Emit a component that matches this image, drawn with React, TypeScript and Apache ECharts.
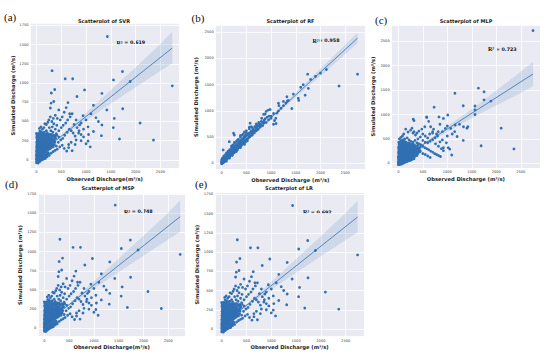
import React, { useEffect, useRef } from 'react';
import * as echarts from 'echarts';

// ---------- data (observed, simulated) ----------
const pointsSVR: number[][] = [
  [2,-38],[12,-30],[25,-35],[8,-20],[30,-18],[45,-25],[60,-12],[5,-5],[20,0],[40,-5],[55,5],[75,-2],[95,8],[110,15],[130,22],[150,30],[170,40],
  [0,15],[15,20],[35,12],[50,25],[70,18],[90,30],[105,40],[125,48],[145,58],[165,65],[190,72],[210,85],[235,95],
  [3,40],[18,45],[32,38],[48,52],[65,45],[82,60],[100,70],[118,78],[138,90],[160,98],[180,110],[205,118],[228,130],[255,140],[280,150],
  [0,65],[14,70],[28,62],[42,78],[58,72],[76,88],[94,95],[112,105],[130,118],[152,125],[172,140],[195,150],[220,165],[248,175],[275,190],[305,200],
  [5,92],[20,98],[36,90],[52,104],[70,100],[88,118],[106,128],[124,138],[144,150],[166,160],[188,175],[212,190],[240,205],[268,220],[300,235],[330,250],
  [2,120],[16,125],[30,118],[46,132],[62,128],[80,145],[98,155],[116,165],[136,178],[158,190],[182,205],[206,220],[232,240],[262,255],[292,270],
  [8,148],[24,152],[40,145],[56,160],[74,158],[92,172],[110,185],[130,200],[152,215],[176,230],[200,248],[228,262],[258,285],
  [4,175],[20,180],[36,172],[52,188],[70,190],[90,205],[110,218],[132,235],[156,250],[182,270],[210,290],
  [10,205],[28,210],[46,200],[64,218],[84,232],[104,248],[126,265],[150,285],[176,305],
  [6,232],[22,240],[40,235],[60,252],[82,270],[106,290],[132,310],[160,330],
  [14,262],[34,270],[56,285],[80,305],[105,325],[135,350],
  [5,295],[28,300],[50,318],[76,340],[100,365],[10,325],[40,345],[70,375],
  [15,-28],[35,-40],[50,-15],[68,-20],[85,0],[100,-3],[120,5],[140,12],[160,18],[180,30],[200,45],
  [10,8],[28,25],[42,20],[62,32],[80,10],[98,22],[115,28],[135,35],[155,45],[175,52],[198,60],[222,75],[245,82],
  [8,55],[24,58],[38,50],[55,62],[72,55],[90,75],[108,82],[126,88],[148,102],[170,112],[195,130],[215,140],[240,155],
  [12,82],[30,80],[45,88],[62,90],[80,108],[98,112],[118,122],[138,130],[160,145],[180,158],[202,168],[225,180],[252,195],
  [10,110],[25,108],[40,112],[56,118],[72,115],[90,135],[108,142],[128,155],[150,168],[170,178],[195,195],[220,208],[245,222],
  [14,138],[32,135],[48,140],[66,145],[84,165],[102,168],[122,178],[142,190],[165,205],[190,218],[215,232],
  [12,162],[28,165],[44,160],[62,175],[80,178],[100,195],[120,208],[142,222],[166,238],[192,258],
  [15,192],[32,195],[55,205],[75,210],[95,225],[115,238],[138,252],
  [14,218],[30,225],[50,225],[72,240],[95,258],[118,275],
  [18,250],[45,258],[68,262],[90,288],[0,345],[20,315],[62,335],[88,352],[15,280],
  [260,300],[285,240],[300,280],[310,215],[320,300],[345,265],[355,320],[370,230],[390,280],[400,340],[270,330],[235,270],
  [250,310],[300,330],[330,200],[360,260],[290,195],[240,185],[265,165],[315,180],[345,235],[375,310],[195,330],[220,350],
  [180,320],[160,360],[210,310],[230,300],
  [180,20],[220,45],[260,60],[300,90],[340,110],[380,125],[420,140],[470,170],[520,190],[560,150],[610,115],[650,200],[700,230],
  [260,420],[290,380],[320,430],[350,470],[380,400],[410,450],[250,520],[280,560],[310,500],[340,540],[200,460],[230,490],
  [150,420],[170,470],[120,400],[90,430],[60,410],[200,380],[240,330],[280,320],[330,310],[370,290],[410,320],[450,300],
  [490,260],[530,280],[570,320],[620,360],[660,400],[700,380],[740,350],[780,310],[800,260],[450,380],[500,420],[540,450],
  [590,480],[630,520],[680,560],[720,600],[760,460],[820,420],[860,380],[900,330],[950,300],[480,520],[520,560],[420,540],
  [380,580],[440,230],[360,200],[400,180],[300,160],[340,170],[250,250],[330,360],[280,260],
  [315,1160],[580,1055],[730,1055],[1735,1150],[1553,1040],[1890,1020],[2740,963],[970,910],[368,915],[300,870],[1320,865],
  [817,825],[350,760],[295,738],[636,745],[280,675],[1150,710],[1420,650],[1740,665],[940,575],[670,600],[1570,540],
  [2090,480],[1320,455],[1550,420],[1040,430],[870,455],[1675,272],[2360,258],[1310,315],[1040,245],[1085,170],[1000,210],
  [1150,370],[1430,1605],[1200,550],[1000,520],[900,480],[1100,600],[800,520],[600,680],[1250,500],[950,400],[850,350],
  [1050,330],[650,160],[720,120],[780,200],[900,250],[560,620],[450,650]
];

const pointsRF: number[][] = [
  [0,-10],[5,5],[10,-5],[15,20],[20,10],[25,30],[30,15],[40,40],[45,25],[50,55],[55,35],[60,70],[65,50],[70,45],[80,85],
  [85,65],[90,100],[95,75],[100,90],[105,120],[110,85],[115,105],[120,140],[125,100],[130,120],[135,150],[140,110],[150,160],
  [155,130],[160,175],[165,145],[170,190],[175,150],[180,200],[185,165],[190,215],[200,180],[205,230],[210,195],[220,245],
  [225,205],[230,260],[240,215],[245,280],[250,235],[260,290],[265,240],[270,310],[280,255],[285,320],[290,270],[300,330],
  [310,280],[320,350],[330,300],[340,370],[350,320],[360,390],[370,340],[380,410],[390,355],[400,430],[410,370],[420,450],
  [430,390],[440,470],[450,410],[460,500],[470,430],[480,520],[490,445],[500,540],[520,470],[530,560],[550,500],[560,580],
  [580,520],[600,620],[620,540],[640,650],[660,580],[680,700],[700,620],[720,730],[740,650],[760,760],[780,690],[800,800],
  [830,720],[860,820],
  [3,20],[12,10],[18,35],[28,20],[35,45],[42,30],[52,65],[58,45],[68,80],[75,60],[82,100],[88,75],[98,110],[102,80],[112,130],
  [118,100],[128,145],[132,110],[142,165],[148,125],[158,180],[162,140],[172,205],[178,160],[188,225],[195,175],[202,245],
  [208,185],[218,265],[222,200],[235,275],[238,220],[248,300],[255,230],[262,310],[270,255],[278,330],[285,270],[295,345],
  [302,290],[312,360],[318,305],[328,380],[335,320],[345,395],[352,335],[362,410],[372,355],[382,430],[392,370],[402,450],
  [412,385],[425,465],[435,400],[448,490],[458,420],[470,505],[482,440],[495,525],[508,460],[525,545],[540,480],[555,560],
  [572,510],[590,590],[610,560],[630,600],[650,640],[670,620],[700,680],[730,700],[750,720],[790,740],[820,780],[850,770],
  [880,850],[920,880],
  [45,140],[90,170],[140,220],[200,330],[260,400],[320,440],[380,530],[440,560],[500,580],[95,40],[160,100],[220,160],
  [300,230],[380,300],[460,360],
  [30,90],[50,130],[80,170],[100,200],[130,230],[160,260],[200,300],[230,350],[260,380],[300,420],[340,460],[380,500],
  [420,540],[460,600],[500,620],[560,660],[600,700],[20,60],[60,120],[120,190],[180,250],[240,320],[10,40],[35,60],[70,110],
  [110,160],[150,210],[190,260],[210,150],[250,200],[280,220],[320,260],[360,300],[400,340],[440,380],[480,400],[520,430],
  [0,30],[0,60],[8,80],[18,100],[40,100],[30,255],[154,412],[255,540],[240,575],
  [2750,1700],[2375,1475],[2120,1790],[1740,1700],[1900,1660],[1755,1430],[1690,1300],[1450,1320],[1550,1240],[1560,1200],
  [1320,1270],[1330,1190],[1150,1145],[1160,1100],[1420,1045],[940,1015],[980,1025],[900,990],[1095,860],[1070,815],
  [1100,760],[1050,745],[810,860],[850,935],[775,710],[700,660],[670,700],[880,940],[575,765],[560,690],[1000,900],
  [1200,1050],[1250,1100],[1050,950],[950,830],[900,780],[850,800],[750,780],[650,620],[620,680],[700,750],[1300,1150],
  [1600,1450],[1800,1600],[2000,1720],[1650,1500],[1250,1180],[1150,1000],[1350,1200],[1000,860],[960,900],[1120,960]
];

const pointsMLP: number[][] = [
  [0,-20],[10,0],[25,-10],[40,10],[60,-5],[80,15],[100,20],[120,35],[150,45],[180,60],[210,70],[240,85],[270,95],[300,110],
  [0,30],[15,45],[35,25],[55,50],[75,40],[95,65],[115,60],[140,80],[165,90],[195,105],[225,120],[255,135],[290,150],[320,165],[360,180],
  [5,80],[20,95],[40,75],[60,100],[85,90],[105,115],[130,110],[155,135],[180,150],[210,160],[240,180],[270,195],[305,210],[340,225],[380,240],[420,255],
  [0,130],[18,140],[38,125],[58,150],[80,145],[100,170],[125,165],[150,185],[175,200],[200,215],[230,230],[260,250],[295,265],[330,280],[370,300],[410,310],[450,330],
  [8,180],[25,190],[45,175],[68,200],[90,195],[112,220],[138,215],[165,240],[190,255],[220,270],[250,290],[285,310],[320,330],[360,350],[400,370],
  [3,230],[22,240],[42,225],[65,250],[88,245],[110,270],[135,265],[160,290],[188,305],[218,320],[250,340],[285,360],[320,380],
  [10,280],[30,290],[52,275],[75,300],[98,295],[122,320],[148,315],[175,340],[205,355],[238,370],[270,390],
  [5,330],[28,340],[50,325],[74,350],[100,345],[126,370],[155,385],[185,400],[215,420],
  [15,380],[40,390],[66,375],[92,400],[120,420],[150,440],[8,430],[35,445],[62,470],[95,480],[130,500],
  [20,500],[50,530],[85,560],[110,600],
  [5,-30],[18,-15],[32,-25],[50,5],[70,-15],[90,0],[110,8],[135,20],[160,30],[190,40],[220,55],[250,70],[280,80],[320,95],
  [8,15],[26,12],[45,35],[65,25],[85,50],[108,45],[128,62],[152,70],[180,78],[210,92],[240,105],[272,118],[305,130],[340,150],[380,160],
  [12,60],[30,65],[50,55],[70,78],[95,75],[118,95],[142,98],[168,118],[195,128],[225,140],[255,160],[288,175],[322,190],[360,205],[400,220],[440,235],
  [10,105],[28,115],[48,100],[68,125],[92,120],[115,140],[138,140],[162,160],[188,172],[215,188],[245,205],[278,222],[312,238],[350,258],[390,275],[430,290],
  [15,155],[32,165],[52,152],[75,172],[98,180],[120,195],[145,200],[170,220],[198,235],[228,250],[262,268],[300,288],[340,305],[380,325],
  [12,205],[30,215],[55,205],[78,225],[100,222],[125,245],[150,255],[176,270],[205,285],[235,300],[268,320],[305,340],[345,360],
  [18,255],[40,262],[62,255],[86,275],[110,290],[135,300],[162,315],[192,330],[225,350],[258,365],[295,385],
  [15,305],[38,315],[62,310],[88,325],[112,335],[140,350],[170,360],[200,378],[235,395],
  [22,355],[48,365],[78,365],[108,385],[138,405],[170,420],[20,405],[50,420],[80,440],[112,455],
  [180,520],[220,480],[260,450],[300,430],[340,470],[380,420],[420,400],[460,380],[500,350],[540,320],[580,300],[620,280],
  [660,250],[700,230],[740,200],[780,180],[820,160],[860,140],[450,250],[500,200],[550,180],[600,150],[650,120],[400,200],
  [350,150],[300,90],[250,60],[500,470],[550,430],[600,420],[650,450],[700,480],[750,520],[800,560],[600,520],[550,560],
  [500,600],[450,540],[400,500],[350,580],[300,620],[250,680],[200,640],[150,700],[280,720],[320,650],[380,620],[420,660],
  [480,700],[540,750],[640,600],[700,650],[760,400],[820,350],[880,300],[920,260],[980,420],[900,480],[850,440],[780,600],
  [720,700],[660,750],[620,860],[580,940],[700,620],
  [2750,2720],[1635,1540],[1155,1435],[1750,1465],[1750,1300],[1565,1175],[1325,1180],[1565,1095],[1565,1000],[1890,1275],
  [730,1150],[305,905],[320,875],[580,950],[830,950],[1010,990],[920,920],[1160,785],[1000,765],[960,715],[1070,715],
  [815,650],[1330,750],[1420,750],[2100,720],[2360,295],[1690,360],[1325,470],[1090,170],[1020,320],[1050,290],[920,320],
  [1100,600],[1200,550],[1000,560],[900,650],[1250,800],[1150,650],[1400,720],[850,800]
];

const pointsMSP = pointsSVR;
const pointsLR = pointsSVR;

// regression lines (endpoints) and confidence bands
const lineSVR = [[0, 52], [2740, 1455]];
const lineRF = [[0, 5], [2750, 2388]];
const lineMLP = [[0, 60], [2750, 1830]];

const bandXSVR = [0, 500, 1000, 1500, 2000, 2500, 2740];
const bandUpSVR = [67, 322, 614, 910, 1206, 1507, 1668];
const bandLoSVR = [37, 294, 514, 730, 946, 1157, 1258];

const bandXRF = [0, 500, 1000, 1500, 2000, 2500, 2750];
const bandUpRF = [15, 450, 900, 1350, 1808, 2261, 2490];
const bandLoRF = [-5, 426, 842, 1258, 1668, 2081, 2290];

const bandXMLP = [0, 500, 1000, 1500, 2000, 2500, 2750];
const bandUpMLP = [75, 395, 760, 1110, 1490, 1880, 2080];
const bandLoMLP = [45, 365, 640, 930, 1190, 1440, 1585];

const titles = ['Scatterplot of SVR', 'Scatterplot of RF', 'Scatterplot of MLP', 'Scatterplot of MSP', 'Scatterplot of LR'];
const r2Values = ['0.619', '0.958', '0.723', '0.748', '0.692'];
const r2Sep = [' = ', '= ', ' = ', ' = ', ' = '];
const panelTags = ['(a)', '(b)', '(c)', '(d)', '(e)'];
const xNames = ['Observed Discharge(m³/s)', 'Observed Discharge (m³/s)', 'Observed Discharge (m³/s)', 'Observed Discharge(m³/s)', 'Observed Discharge (m³/s)'];
const yName = 'Simulated Discharge (m³/s)';

// ---------- layout ----------
const layout = [
  { grid: { left: 30.5, top: 23, width: 148.5, height: 145 }, x: [-120, 2875], y: [-105, 1780], yStep: 250, yGap: 15.5,
    title: [104, 20.8], tag: [4, 16.5], r2: [116.5, 42.7] },
  { grid: { left: 215.7, top: 25, width: 149.3, height: 144 }, x: [-121, 2901], y: [-109, 2639], yStep: 500, yGap: 17,
    title: [290.5, 21.3], tag: [191.5, 17.5], r2: [312.5, 40.7] },
  { grid: { left: 391.7, top: 25, width: 148.3, height: 143 }, x: [-135, 2892], y: [-96, 2834], yStep: 500, yGap: 16,
    title: [466, 21.3], tag: [375, 19.5], r2: [488, 49] },
  { grid: { left: 38.3, top: 193.3, width: 146.7, height: 143.4 }, x: [-121, 2837], y: [-109, 1759], yStep: 250, yGap: 15.5,
    title: [108, 188], tag: [5, 184], r2: [124, 211.7] },
  { grid: { left: 215, top: 192.7, width: 149.3, height: 144 }, x: [-135, 2875], y: [-100, 1771], yStep: 250, yGap: 15.5,
    title: [289, 188], tag: [195, 184], r2: [303, 212.3] },
];

const BLUE = '#3170b3';

export default function App() {
  const ref = useRef<HTMLDivElement>(null);
  useEffect(() => {
    document.body.style.margin = '0';
    if (!ref.current) return;
    const chart = echarts.init(ref.current, null, { renderer: 'svg' });

    const pts = [pointsSVR, pointsRF, pointsMLP, pointsMSP, pointsLR];
    const lines = [lineSVR, lineRF, lineMLP, lineSVR, lineSVR];
    const bands = [
      [bandXSVR, bandUpSVR, bandLoSVR],
      [bandXRF, bandUpRF, bandLoRF],
      [bandXMLP, bandUpMLP, bandLoMLP],
      [bandXSVR, bandUpSVR, bandLoSVR],
      [bandXSVR, bandUpSVR, bandLoSVR],
    ];

    const grids: any[] = [];
    const xAxes: any[] = [];
    const yAxes: any[] = [];
    const series: any[] = [];
    const graphics: any[] = [];

    layout.forEach((L, i) => {
      grids.push({ ...L.grid, show: true, backgroundColor: '#EAEAF2', borderWidth: 0, containLabel: false });
      xAxes.push({
        type: 'value', gridIndex: i, min: L.x[0], max: L.x[1], minInterval: 500, maxInterval: 500,
        axisLine: { show: false }, axisTick: { show: false },
        splitLine: { show: true, lineStyle: { color: '#ffffff', width: 0.8 } },
        axisLabel: {
          fontSize: 3.6, color: '#3a3a3a', margin: 2, fontFamily: 'DejaVu Sans', showMinLabel: false, showMaxLabel: false,
          formatter: (v: number) => (v % 500 === 0 ? String(v) : ''),
        },
        name: xNames[i], nameLocation: 'middle', nameGap: 8,
        nameTextStyle: { fontSize: 5.2, fontWeight: 'bold', color: '#222', fontFamily: 'DejaVu Sans', verticalAlign: 'top' },
      });
      yAxes.push({
        type: 'value', gridIndex: i, min: L.y[0], max: L.y[1], minInterval: L.yStep, maxInterval: L.yStep,
        axisLine: { show: false }, axisTick: { show: false },
        splitLine: { show: true, lineStyle: { color: '#ffffff', width: 0.8 } },
        axisLabel: {
          fontSize: 3.6, color: '#3a3a3a', margin: 2, fontFamily: 'DejaVu Sans', showMinLabel: false, showMaxLabel: false,
          formatter: (v: number) => (v % L.yStep === 0 ? String(v) : ''),
        },
        name: yName, nameLocation: 'middle', nameGap: L.yGap,
        nameTextStyle: { fontSize: 5.2, fontWeight: 'bold', color: '#222', fontFamily: 'DejaVu Sans' },
      });

      series.push({
        type: 'scatter', xAxisIndex: i, yAxisIndex: i, data: pts[i], symbolSize: 2.8, z: 2,
        itemStyle: { color: BLUE, opacity: 1 }, silent: true,
      });
      const [bx, bu, bl] = bands[i];
      series.push({
        type: 'custom', xAxisIndex: i, yAxisIndex: i, data: [[bx[0], bl[0]]], z: 3, silent: true,
        renderItem: (params: any, api: any) => {
          const poly: number[][] = [];
          for (let k = 0; k < bx.length; k++) poly.push(api.coord([bx[k], bl[k]]));
          for (let k = bx.length - 1; k >= 0; k--) poly.push(api.coord([bx[k], bu[k]]));
          return { type: 'polygon', shape: { points: poly }, style: { fill: 'rgba(49,112,179,0.15)', stroke: 'none' } };
        },
      });
      series.push({
        type: 'line', xAxisIndex: i, yAxisIndex: i, data: lines[i], showSymbol: false, symbol: 'none', z: 4, silent: true,
        lineStyle: { color: BLUE, width: 0.8 },
      });

      graphics.push({
        type: 'text', x: L.title[0], y: L.title[1],
        style: { text: titles[i], font: 'bold 5px "DejaVu Sans"', fill: '#222', align: 'center', verticalAlign: 'middle' },
      });
      graphics.push({
        type: 'text', x: L.tag[0], y: L.tag[1],
        style: { text: panelTags[i], font: '11px "Liberation Serif"', fill: '#111', align: 'left', verticalAlign: 'middle' },
      });
      graphics.push({
        type: 'text', x: L.r2[0], y: L.r2[1],
        style: {
          text: '{a|R²}{b|' + r2Sep[i] + r2Values[i] + '}', align: 'left', verticalAlign: 'middle',
          rich: {
            a: { fontFamily: 'Liberation Serif', fontWeight: 'bold', fontSize: 6, fill: '#111' },
            b: { fontFamily: 'DejaVu Sans', fontWeight: 'bold', fontSize: 4.8, fill: '#111' },
          },
        },
      });
    });

    chart.setOption({
      animation: false,
      backgroundColor: '#ffffff',
      grid: grids,
      xAxis: xAxes,
      yAxis: yAxes,
      series,
      graphic: graphics,
    });
    return () => chart.dispose();
  }, []);
  return <div ref={ref} style={{ width: 550, height: 357 }} />;
}
